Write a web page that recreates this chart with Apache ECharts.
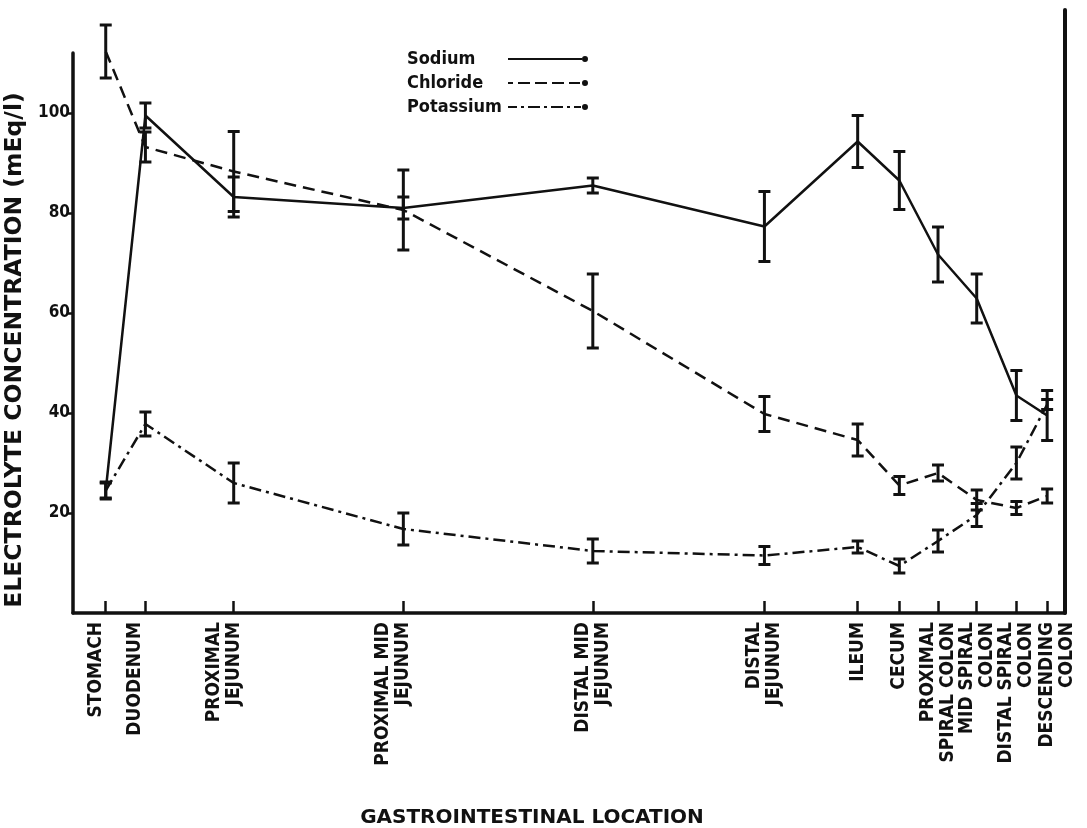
<!DOCTYPE html>
<html>
<head>
<meta charset="utf-8">
<script src="https://cdn.jsdelivr.net/npm/echarts/dist/echarts.min.js"></script>
<style>
html,body{margin:0;padding:0;background:#fff;}
#chart{width:1087px;height:828px;}
</style>
</head>
<body>
<div id="chart"></div>
<script>
// Locations along the gastrointestinal tract (relative axis position) and their labels
const locations = ['STOMACH','DUODENUM','PROXIMAL\nJEJUNUM','PROXIMAL MID\nJEJUNUM','DISTAL MID\nJEJUNUM','DISTAL\nJEJUNUM','ILEUM','CECUM','PROXIMAL\nSPIRAL COLON','MID SPIRAL\nCOLON','DISTAL SPIRAL\nCOLON','DESCENDING\nCOLON'];
const positions = [3.3, 7.3, 16.2, 33.3, 52.4, 69.7, 79.1, 83.3, 87.2, 91.1, 95.1, 98.2];

// Electrolyte concentrations (mEq/l) and error bar half-widths
const sodium       = [24.5, 99.5, 83.2, 81.0, 85.5, 77.3, 94.3, 86.5, 71.7, 62.9, 43.5, 39.5];
const sodiumErr    = [1.5, 2.5, 4.0, 2.2, 1.5, 7.0, 5.2, 5.8, 5.5, 4.9, 5.0, 5.0];
const chloride     = [112.3, 93.2, 88.3, 80.6, 60.4, 39.8, 34.6, 25.5, 28.0, 22.6, 21.0, 23.4];
const chlorideErr  = [5.3, 3.0, 8.0, 8.0, 7.4, 3.5, 3.2, 1.8, 1.6, 2.0, 1.3, 1.4];
const potassium    = [24.5, 37.8, 26.0, 16.8, 12.4, 11.5, 13.2, 9.4, 14.4, 19.6, 30.0, 41.7];
const potassiumErr = [1.7, 2.4, 4.0, 3.2, 2.4, 1.8, 1.2, 1.4, 2.2, 2.3, 3.2, 1.0];

const yTicks = [20, 40, 60, 80, 100];

const INK = '#111';
const FONT = '"DejaVu Sans Condensed", "DejaVu Sans", sans-serif';
const WIDE = '"DejaVu Sans", sans-serif';

// Legend keys drawn like the original: line pattern ending in a dot
const DOT = ' M80,4A3,3 0 1 1 74,4A3,3 0 1 1 80,4Z';
const ICON_SOLID = 'path://M0,3H74V5H0Z' + DOT;
const ICON_DASH = 'path://M0,3H5V5H0Z M10,3H22V5H10Z M27,3H39V5H27Z M44,3H56V5H44Z M61,3H72V5H61Z' + DOT;
const ICON_DASHDOT = 'path://M0,3H9V5H0Z M13,3H16V5H13Z M20,3H32V5H20Z M36,3H39V5H36Z M43,3H55V5H43Z M59,3H62V5H59Z M66,3H73V5H66Z' + DOT;

function lineData(vals) { return positions.map((x, i) => [x, vals[i]]); }
function errData(vals, errs) { return positions.map((x, i) => [x, vals[i] - errs[i], vals[i] + errs[i]]); }
function locLabel(v) { const i = positions.indexOf(v); return i >= 0 ? locations[i] : ''; }
function pick(idx) { return idx.map(i => positions[i]); }

function renderErr(params, api) {
  const x = api.value(0), lo = api.value(1), hi = api.value(2);
  const pTop = api.coord([x, hi]);
  const pBot = api.coord([x, lo]);
  const w = 6;
  const st = { stroke: INK, lineWidth: 3 };
  return {
    type: 'group',
    children: [
      { type: 'line', shape: { x1: pTop[0], y1: pTop[1], x2: pBot[0], y2: pBot[1] }, style: st },
      { type: 'line', shape: { x1: pTop[0] - w, y1: pTop[1], x2: pTop[0] + w, y2: pTop[1] }, style: st },
      { type: 'line', shape: { x1: pBot[0] - w, y1: pBot[1], x2: pBot[0] + w, y2: pBot[1] }, style: st }
    ]
  };
}

// Location labels are spread over overlaid label-only axes so crowded neighbours
// are never auto-hidden. 'shift' nudges a group half a line left/right (as lettered).
function labelAxis(vals, shift) {
  return {
    type: 'value',
    gridIndex: 0,
    position: 'bottom',
    min: 0,
    max: 100,
    axisLine: { show: false, onZero: false },
    axisTick: { show: false },
    splitLine: { show: false },
    axisLabel: {
      show: true,
      rotate: 90,
      margin: 9,
      fontFamily: FONT,
      fontSize: 19,
      lineHeight: 20,
      fontWeight: 'bold',
      color: INK,
      hideOverlap: false,
      customValues: vals,
      formatter: function (v) {
        const t = locLabel(v);
        if (shift === 'left') return t + '\n ';
        if (shift === 'right') return ' \n' + t;
        return t;
      }
    }
  };
}

const chart = echarts.init(document.getElementById('chart'), null, { renderer: 'canvas' });

const option = {
  backgroundColor: '#fff',
  animation: false,
  textStyle: { fontFamily: FONT, color: INK },
  legend: {
    data: [
      { name: 'Sodium', icon: ICON_SOLID },
      { name: 'Chloride', icon: ICON_DASH },
      { name: 'Potassium', icon: ICON_DASHDOT }
    ],
    orient: 'vertical',
    left: 402,
    top: 45,
    align: 'right',
    itemWidth: 80,
    itemHeight: 8,
    itemGap: 6,
    itemStyle: { color: INK, borderWidth: 0 },
    formatter: '{a|{name}}',
    textStyle: {
      fontFamily: FONT, fontSize: 18, fontWeight: 'bold', color: INK,
      rich: { a: { fontFamily: FONT, fontSize: 18, fontWeight: 'bold', color: INK, width: 96, align: 'left' } }
    }
  },
  grid: [
    { left: 73, right: 22, top: 53, bottom: 215, outerBoundsMode: 'none', containLabel: false },
    { left: 73, right: 22, top: 10, bottom: 215, outerBoundsMode: 'none', containLabel: false }
  ],
  xAxis: [
    {
      type: 'value',
      gridIndex: 0,
      position: 'bottom',
      min: 0,
      max: 100,
      name: 'GASTROINTESTINAL LOCATION',
      nameLocation: 'middle',
      nameGap: 195,
      nameTextStyle: { fontFamily: WIDE, fontSize: 20, fontWeight: 'bold', color: INK, padding: [0, 74, 0, 0] },
      axisLine: { show: true, onZero: false, lineStyle: { color: INK, width: 3.5 } },
      axisTick: { show: true, inside: true, length: 12, lineStyle: { color: INK, width: 2.5 }, customValues: positions },
      axisLabel: { show: false },
      splitLine: { show: false }
    },
    { type: 'value', gridIndex: 1, show: false, min: 0, max: 100 },
    labelAxis(pick([0, 2]), 'left'),
    labelAxis(pick([1, 3]), 'left'),
    labelAxis(pick([4, 6, 8, 10]), null),
    labelAxis(pick([5, 7, 9]), null),
    labelAxis(pick([11]), 'right')
  ],
  yAxis: [
    {
      type: 'value',
      gridIndex: 0,
      min: 0,
      max: 112,
      name: 'ELECTROLYTE CONCENTRATION (mEq/l)',
      nameLocation: 'middle',
      nameGap: 41,
      nameRotate: 90,
      nameTextStyle: { fontFamily: WIDE, fontSize: 23.5, fontWeight: 'bold', color: INK, padding: [0, 34, 0, 0] },
      axisLine: { show: true, onZero: false, lineStyle: { color: INK, width: 3.5 } },
      axisTick: { show: true, length: 6, lineStyle: { color: INK, width: 2.5 }, customValues: yTicks },
      axisLabel: { show: true, margin: 3, fontFamily: FONT, fontSize: 17, fontWeight: 'bold', color: INK, customValues: yTicks },
      splitLine: { show: false }
    },
    {
      type: 'value',
      gridIndex: 1,
      position: 'right',
      min: 0,
      max: 1,
      axisLine: { show: true, onZero: false, lineStyle: { color: INK, width: 4 } },
      axisTick: { show: false },
      axisLabel: { show: false },
      splitLine: { show: false }
    }
  ],
  series: [
    { name: 'Sodium', type: 'line', xAxisIndex: 0, yAxisIndex: 0, data: lineData(sodium), symbol: 'none', lineStyle: { color: INK, width: 2.5, type: 'solid' }, itemStyle: { color: INK }, z: 2 },
    { name: 'Chloride', type: 'line', xAxisIndex: 0, yAxisIndex: 0, data: lineData(chloride), symbol: 'none', lineStyle: { color: INK, width: 2.5, type: [12, 7] }, itemStyle: { color: INK }, z: 2 },
    { name: 'Potassium', type: 'line', xAxisIndex: 0, yAxisIndex: 0, data: lineData(potassium), symbol: 'none', lineStyle: { color: INK, width: 2.5, type: [12, 5, 3, 5] }, itemStyle: { color: INK }, z: 2 },
    { name: 'Sodium error', type: 'custom', xAxisIndex: 0, yAxisIndex: 0, data: errData(sodium, sodiumErr), renderItem: renderErr, z: 3 },
    { name: 'Chloride error', type: 'custom', xAxisIndex: 0, yAxisIndex: 0, data: errData(chloride, chlorideErr), renderItem: renderErr, z: 3 },
    { name: 'Potassium error', type: 'custom', xAxisIndex: 0, yAxisIndex: 0, data: errData(potassium, potassiumErr), renderItem: renderErr, z: 3 }
  ]
};

chart.setOption(option);
</script>
</body>
</html>
